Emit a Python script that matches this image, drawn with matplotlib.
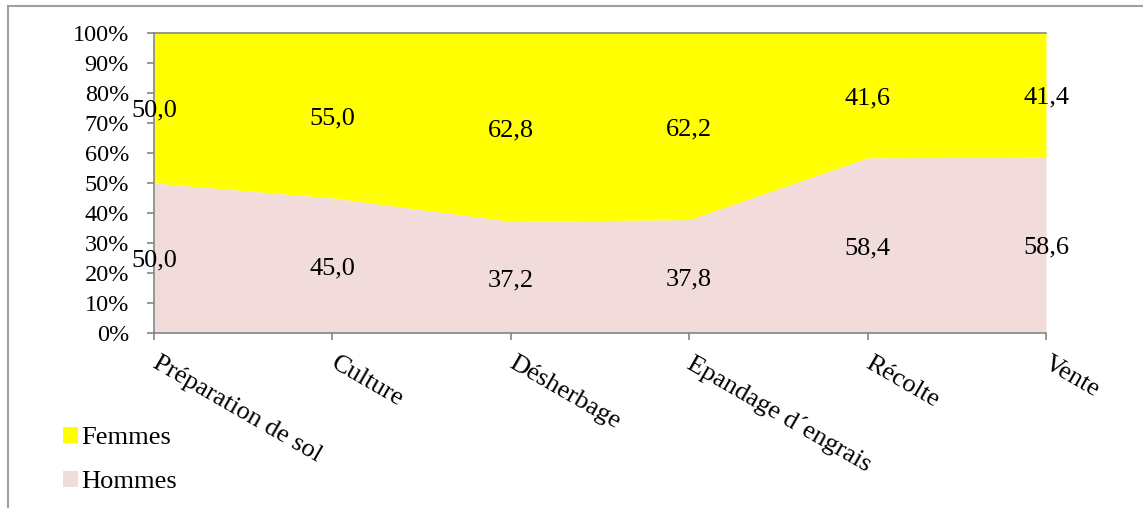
import matplotlib
matplotlib.use("Agg")
import matplotlib.pyplot as plt
from matplotlib.patches import Patch
from matplotlib.lines import Line2D
import numpy as np

categories = ["Préparation de sol", "Culture", "Désherbage",
              "Epandage d\u00b4engrais", "Récolte", "Vente"]
hommes = [50.0, 45.0, 37.2, 37.8, 58.4, 58.6]
femmes = [50.0, 55.0, 62.8, 62.2, 41.6, 41.4]
yticks = [0, 10, 20, 30, 40, 50, 60, 70, 80, 90, 100]

col_h = "#F2DCDB"
col_f = "#FFFF00"
axis_col = "#868686"

plt.rcParams["font.family"] = ["Liberation Serif", "DejaVu Serif"]
FS = 19
FS_TICK = 17.5

W, H = 1143, 508
fig = plt.figure(figsize=(W / 100, H / 100), dpi=100)
ax = fig.add_axes([154 / W, 1 - 333 / H, (1046 - 154) / W, (333 - 33) / H])

x = np.arange(len(categories))
h = np.array(hommes)
f = np.array(femmes)
tot = h + f
hp = h / tot * 100
fp = f / tot * 100

ax.fill_between(x, 0, hp, color=col_h, linewidth=0)
ax.fill_between(x, hp, hp + fp, color=col_f, linewidth=0)

ax.set_xlim(0, len(categories) - 1)
ax.set_ylim(0, 100)
ax.set_yticks(yticks)
ax.set_yticklabels([f"{v}%" for v in yticks], fontsize=FS_TICK)
ax.set_xticks(x)
ax.set_xticklabels([])

ax.spines["right"].set_visible(False)
for s in ["left", "bottom", "top"]:
    ax.spines[s].set_color(axis_col)
    ax.spines[s].set_linewidth(1.2)
ax.tick_params(axis="both", direction="out", color=axis_col, length=5, width=1.2)
ax.tick_params(axis="y", pad=13)

# Category labels, rotated and anchored at each tick
for xi, name in zip(x, categories):
    ax.annotate(name, xy=(xi, 0), xycoords="data", xytext=(4, -14),
                textcoords="offset points", rotation=-30, rotation_mode="anchor",
                ha="left", va="top", fontsize=FS)

# Value labels in the middle of each band
for xi, hv, fv, hpv, fpv in zip(x, hommes, femmes, hp, fp):
    for val, yc in ((hv, hpv / 2), (fv, hpv + fpv / 2)):
        ax.annotate(f"{val:.1f}".replace(".", ","), xy=(xi, yc), xytext=(0, -2),
                    textcoords="offset points", ha="center", va="center", fontsize=FS)

handles = [Patch(facecolor=col_f, edgecolor="none", label="Femmes"),
           Patch(facecolor=col_h, edgecolor="none", label="Hommes")]
fig.legend(handles=handles, loc="upper left", bbox_to_anchor=(63 / W, 1 - 427 / H),
           frameon=False, fontsize=FS, handlelength=0.55, handleheight=0.55,
           handletextpad=0.15, labelspacing=0.82, borderaxespad=0, borderpad=0)

# Chart area frame
fig.add_artist(Line2D([8 / W, 8 / W], [0, 1 - 6 / H], transform=fig.transFigure,
                      color="#A0A0A0", linewidth=1.5))
fig.add_artist(Line2D([8 / W, 1], [1 - 6 / H, 1 - 6 / H], transform=fig.transFigure,
                      color="#A0A0A0", linewidth=1.5))

fig.savefig("out.png", dpi=100)
